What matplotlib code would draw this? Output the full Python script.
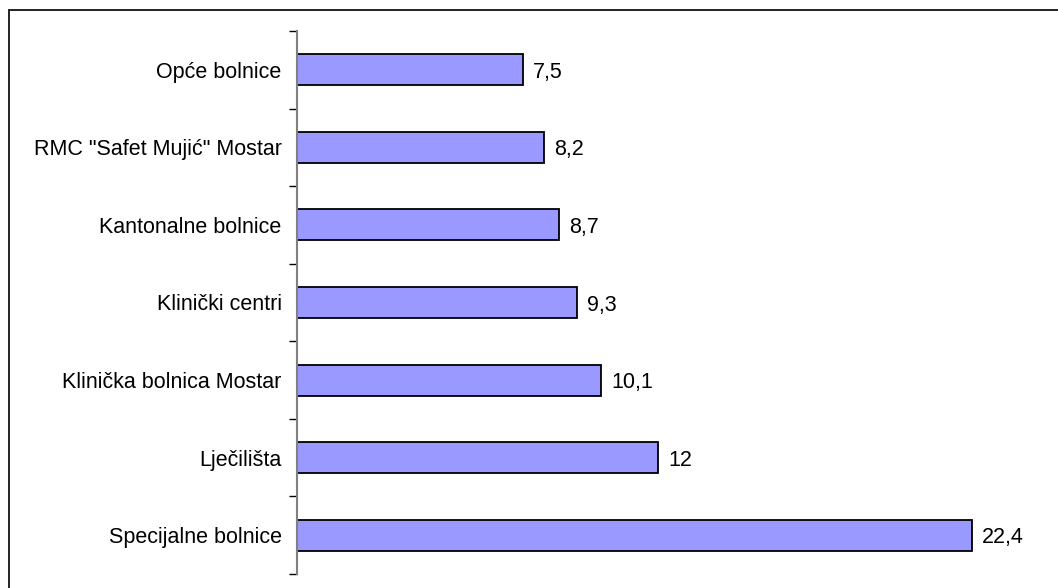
import matplotlib.pyplot as plt
from matplotlib.patches import Rectangle

plt.rcParams['font.family'] = ['Liberation Sans', 'DejaVu Sans']

# Podaci (odozdo prema gore)
kategorije = ['Specijalne bolnice', 'Lječilišta', 'Klinička bolnica Mostar',
              'Klinički centri', 'Kantonalne bolnice', 'RMC "Safet Mujić" Mostar',
              'Opće bolnice']
vrijednosti = [22.4, 12, 10.1, 9.3, 8.7, 8.2, 7.5]
oznake = ['22,4', '12', '10,1', '9,3', '8,7', '8,2', '7,5']

fig = plt.figure(figsize=(10.58, 5.88), dpi=100)
ax = fig.add_axes([297 / 1058, 1 - 574 / 588, (1050 - 297) / 1058, 543 / 588])

pos = range(len(kategorije))
ax.barh(pos, vrijednosti, height=0.4, color='#9999FF', edgecolor='black', linewidth=1.3)

for p, v, t in zip(pos, vrijednosti, oznake):
    ax.text(v + 0.33, p, t, va='center_baseline', ha='left', fontsize=15.5)

ax.set_xlim(0, 25)
ax.set_ylim(-0.5, len(kategorije) - 0.5)

# Crtice između kategorija, nazivi na sredini
ax.set_yticks([i - 0.5 for i in range(len(kategorije) + 1)])
ax.set_yticklabels([])
ax.set_yticks(list(pos), minor=True)
ax.set_yticklabels(kategorije, minor=True, fontsize=15.5)
ax.tick_params(axis='y', which='major', length=6, width=1, color='black', direction='out')
ax.tick_params(axis='y', which='minor', length=0, pad=11)
ax.set_xticks([])

for s in ['top', 'right', 'bottom']:
    ax.spines[s].set_visible(False)
ax.spines['left'].set_color('#808080')
ax.spines['left'].set_linewidth(1.5)

# Okvir grafikona
okvir = Rectangle((9 / 1058, -0.1), 1.2, 1 - 10 / 588 + 0.1, transform=fig.transFigure,
                  fill=False, edgecolor='#222222', linewidth=1.4, clip_on=False)
fig.patches.append(okvir)

fig.savefig('out.png', dpi=100, facecolor='white')
